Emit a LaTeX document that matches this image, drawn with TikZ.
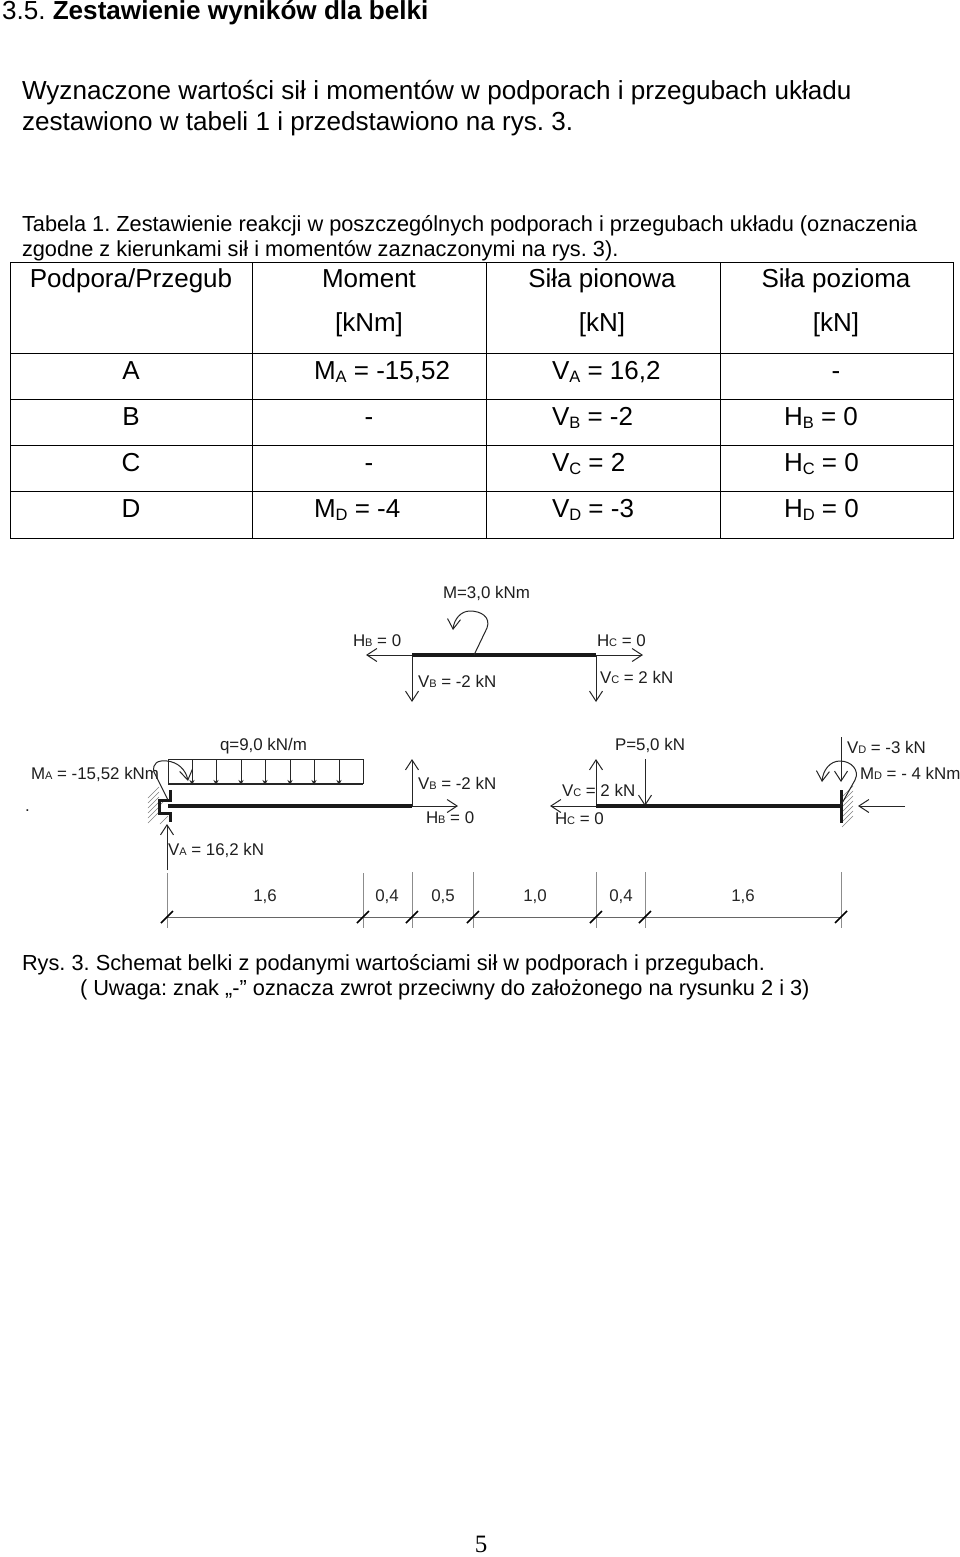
\documentclass[tikz,border=0pt]{standalone}
\usepackage{fontspec}
\setmainfont{Liberation Sans}
\newfontfamily\pagefont{Liberation Serif}
\usetikzlibrary{arrows.meta}
\frenchspacing
\newcommand{\fsz}[1]{\fontsize{#1}{#1}\selectfont}
\newcommand{\lowt}[1]{\raisebox{-0.14em}{\fontsize{16.5}{16.5}\selectfont #1}}
\newcommand{\lowd}[1]{{\fontsize{11}{11}\selectfont #1}}
\tikzset{
 txt/.style={anchor=base west,inner sep=0pt,outer sep=0pt,text=black},
 body/.style={txt,font=\fsz{26.1}},
 small/.style={txt,font=\fsz{21.77}},
 cell/.style={anchor=base,inner sep=0pt,font=\fsz{26}},
 lcell/.style={txt,font=\fsz{26}},
 dia/.style={txt,font=\fsz{16.9},text=black!88},
 dimt/.style={anchor=center,inner sep=0pt,font=\fsz{16.9},text=black!85},
 grid/.style={draw=black,line width=1pt},
 beam/.style={line width=3.2pt,black!90},
 force/.style={line width=1pt,black!85,-{Straight Barb[length=10pt,width=13pt,line width=1pt]}},
 loadar/.style={line width=0.8pt,black!85,-{Stealth[length=5pt,width=5pt]}},
 wall/.style={line width=3pt,black!90,line join=miter},
 hatchl/.style={line width=0.6pt,black!50},
 ext/.style={line width=0.9pt,black!45},
 dim/.style={line width=0.9pt,black!60},
 slash/.style={line width=1.5pt,black},
}
\begin{document}
\begin{tikzpicture}[x=1pt,y=-1pt]
\useasboundingbox (0,0) rectangle (960,1557);
\fill[white] (0,0) rectangle (960,1557);
% text
\node[body] (h) at (2,20) {3.5. \textbf{Zestawienie wyników dla belki}};
\node[body] (p1) at (22,100) {Wyznaczone wartości sił i momentów w podporach i przegubach układu};
\node[body] (p2) at (22,131) {zestawiono w tabeli 1 i przedstawiono na rys. 3.};
\node[small] (t1) at (22,231) {Tabela 1. Zestawienie reakcji w poszczególnych podporach i przegubach układu (oznaczenia};
\node[small] (t2) at (22,256) {zgodne z kierunkami sił i momentów zaznaczonymi na rys. 3).};
% table
\draw[grid] (10,262) rectangle (953,538);
\foreach \yy in {353,399,445,491} \draw[grid] (10,\yy) -- (953,\yy);
\foreach \xx in {252,486,720} \draw[grid] (\xx,262) -- (\xx,538);
\node[cell] (c00) at (131,287) {Podpora/Przegub};
\node[cell] (c01) at (369,287) {Moment};
\node[cell] (c02) at (602,287) {Siła pionowa};
\node[cell] (c03) at (836,287) {Siła pozioma};
\node[cell] (c11) at (369,331) {[kNm]};
\node[cell] (c12) at (602,331) {[kN]};
\node[cell] (c13) at (836,331) {[kN]};
\node[cell] (a0) at (131,379) {A};
\node[lcell] (a1) at (314,379) {M\lowt{A} = -15,52};
\node[lcell] (a2) at (552,379) {V\lowt{A} = 16,2};
\node[cell] (a3) at (836,379) {-};
\node[cell] (b0) at (131,425) {B};
\node[cell] (b1) at (369,425) {-};
\node[lcell] (b2) at (552,425) {V\lowt{B} = -2};
\node[lcell] (b3) at (784,425) {H\lowt{B} = 0};
\node[cell] (d0) at (131,471) {C};
\node[cell] (d1) at (369,471) {-};
\node[lcell] (d2) at (552,471) {V\lowt{C} = 2};
\node[lcell] (d3) at (784,471) {H\lowt{C} = 0};
\node[cell] (e0) at (131,517) {D};
\node[lcell] (e1) at (314,517) {M\lowt{D} = -4};
\node[lcell] (e2) at (552,517) {V\lowt{D} = -3};
\node[lcell] (e3) at (784,517) {H\lowt{D} = 0};
% upper segment B-C
\coordinate (B) at (412,655); \coordinate (C) at (596,655);
\draw[force] (B) -- (366,655);
\draw[force] (C) -- (643,655);
\draw[force] (B) -- (412,702);
\draw[force] (C) -- (596,702);
\draw[beam] (B) -- (C);
\draw[force] (474,655) -- (487,628) .. controls (491,617) and (481,611) .. (470,611) .. controls (461,611) and (454,619) .. (453,630);
\node[dia] (m) at (443,598) {M=3,0 kNm};
\node[dia] (hb) at (353,646) {H\lowd{B} = 0};
\node[dia] (hc) at (597,646) {H\lowd{C} = 0};
\node[dia] (vb) at (418,687) {V\lowd{B} = -2 kN};
\node[dia] (vc) at (600,683) {V\lowd{C} = 2 kN};
% lower left part
\draw[line width=1pt,black!85] (168,784) -- (168,759) -- (363,759) -- (363,784);
\draw[line width=1.6pt,black!85] (168,784) -- (363,784);
\foreach \xx in {192,216,241,265,290,314,339} \draw[loadar] (\xx,759) -- (\xx,785);
\foreach \yy in {798,803,...,823} \draw[hatchl] (148,\yy) -- (159,\yy-11);
\draw[hatchl] (163,802) -- (159,806);
\draw[hatchl] (168,816) -- (160,824);
\draw[wall] (170,790) -- (170,800) -- (159,800) -- (159,813) -- (170,813) -- (170,822);
\coordinate (A) at (168,806); \coordinate (B2) at (412,806);
\coordinate (C2) at (596,806); \coordinate (D) at (841,806);
\draw[beam] (A) -- (B2);
\draw[force] (168,800) -- (154,772) .. controls (152,763) and (158,760) .. (167,761) .. controls (178,762) and (186,770) .. (188,781);
\draw[force] (167,870) -- (167,824);
\node[dia] (q) at (220,750) {q=9,0 kN/m};
\node[dia] (ma) at (31,779) {M\lowd{A} = -15,52 kNm};
\node[dia] (va) at (168,855) {V\lowd{A} = 16,2 kN};
\node[dia] (dot) at (25,811) {.};
% B, C
\draw[force] (B2) -- (412,759);
\draw[force] (B2) -- (458,806);
\draw[force] (C2) -- (596,759);
\draw[force] (C2) -- (550,806);
\draw[force] (645,759) -- (645,806);
\draw[beam] (C2) -- (D);
\node[dia] (vb2) at (418,789) {V\lowd{B} = -2 kN};
\node[dia] (hb2) at (426,823) {H\lowd{B} = 0};
\node[dia] (vc2) at (562,796) {V\lowd{C} = 2 kN};
\node[dia] (hc2) at (555,824) {H\lowd{C} = 0};
\node[dia] (p) at (615,750) {P=5,0 kN};
% D
\foreach \yy in {797,802,...,827} \draw[hatchl] (842,\yy) -- (853,\yy-11);
\draw[wall] (841,790) -- (841,823);
\draw[force] (841,737) -- (841,782);
\draw[force] (841,805) -- (855,780) .. controls (860,770) and (851,761) .. (840,761) .. controls (830,761) and (823,770) .. (822,782);
\draw[force] (905,806) -- (858,806);
\node[dia] (vd) at (847,753) {V\lowd{D} = -3 kN};
\node[dia] (md) at (860,779) {M\lowd{D} = - 4 kNm};
% dimensions
\draw[dim] (167,917) -- (841,917);
\foreach \xx/\ya in {167/873,363/873,412/872,473/872,596/872,645/872,841/872} {
 \draw[ext] (\xx,\ya) -- (\xx,928);
 \draw[slash] (\xx-6,923) -- (\xx+6,911);
}
\node[dimt] (d1a) at (265,897) {1,6};
\node[dimt] (d2a) at (387,897) {0,4};
\node[dimt] (d3a) at (443,897) {0,5};
\node[dimt] (d4a) at (535,897) {1,0};
\node[dimt] (d5a) at (621,897) {0,4};
\node[dimt] (d6a) at (743,897) {1,6};
% caption
\node[small] (r1) at (22,970) {Rys. 3. Schemat belki z podanymi wartościami sił w podporach i przegubach.};
\node[small] (r2) at (80,995) {( Uwaga: znak „-” oznacza zwrot przeciwny do założonego na rysunku 2 i 3)};
\node[anchor=center,inner sep=0pt,font=\pagefont\fsz{25}] (pg) at (481,1544) {5};
\end{tikzpicture}
\end{document}
